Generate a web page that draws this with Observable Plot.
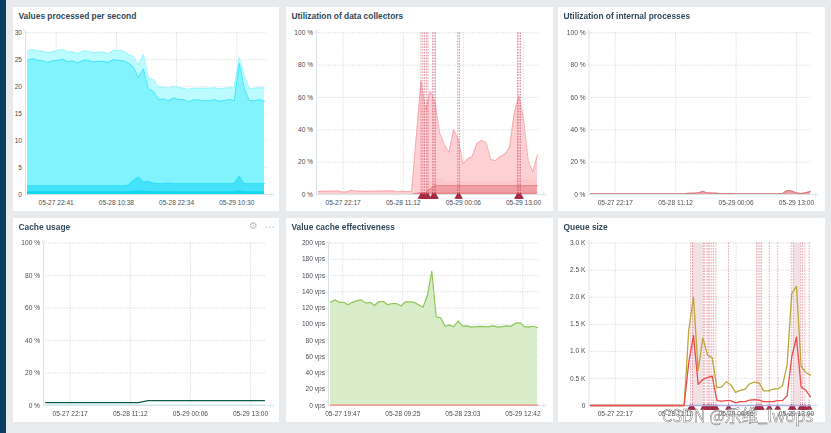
<!DOCTYPE html>
<html><head><meta charset="utf-8">
<script src="https://cdn.jsdelivr.net/npm/d3@7"></script>
<script src="https://cdn.jsdelivr.net/npm/@observablehq/plot@0.6"></script>
<style>
html,body{margin:0;padding:0;background:#e8ebee;overflow:hidden}
#page{position:relative;width:831px;height:433px;filter:blur(.42px);font-family:"Liberation Sans",Arial,sans-serif}
.stripe{position:absolute;left:0;top:0;width:6px;height:433px;background:#0b3f60}
.panel{position:absolute;background:#fff}
.panel svg{position:absolute;left:0;top:0;overflow:visible;background:none}
.title{position:absolute;left:5.5px;top:4px;font-weight:700;font-size:8.4px;line-height:11px;color:#32495a;white-space:nowrap}
.icon{position:absolute;color:#b4bfc7;line-height:10px;white-space:nowrap}
.mark{position:absolute;z-index:5;left:662px;top:406px;font-family:"Noto Sans CJK SC","Liberation Sans",sans-serif;font-size:16.6px;line-height:18px;color:rgba(255,255,255,.45);-webkit-text-stroke:.45px #6f6f6f;white-space:nowrap}
</style></head><body>
<div id="page"><div class="stripe"></div><div class="mark">CSDN @乐维_lwops</div></div>
<script>
// ---- Values processed per second
const vppTop = [26.6,26.9,26.6,26.6,26.3,26.5,26.7,26.9,26.4,26.5,26.1,26.6,26.6,26.3,26.4,26.4,26.1,26.7,26.7,26.6,26.0,25.6,24.0,26.0,21.6,21.3,19.9,19.9,19.7,20.1,19.8,19.7,19.5,19.7,19.7,19.7,19.7,19.8,19.6,19.7,19.8,19.8,25.4,22.0,19.6,19.7,19.8,19.7];
const vppMain = [24.9,25.2,24.9,24.8,24.5,24.8,24.9,25.1,24.6,24.8,24.4,24.9,24.9,24.6,24.7,24.7,24.5,25.0,24.9,24.8,24.4,23.7,21.6,23.3,19.5,19.1,17.6,17.7,17.4,17.9,17.6,17.6,17.2,17.6,17.5,17.4,17.4,17.6,17.3,17.4,17.6,17.4,24.3,19.7,17.4,17.4,17.6,17.3];
const vppMid = [1.6,1.6,1.6,1.6,1.6,1.6,1.6,1.6,1.6,1.6,1.6,1.6,1.6,1.6,1.6,1.6,1.6,1.6,1.6,1.6,1.7,2.6,3.2,2.3,2.4,2.1,2.0,2.0,2.1,2.0,2.0,2.0,2.0,2.0,2.0,2.0,2.0,2.0,2.0,2.0,2.0,2.0,3.4,2.0,2.0,2.0,2.0,2.0];
const vppLow = [0.5,0.5,0.5,0.5,0.5,0.5,0.5,0.5,0.5,0.5,0.5,0.5,0.5,0.5,0.5,0.5,0.5,0.5,0.5,0.5,0.5,0.55,0.7,0.6,0.55,0.5,0.5,0.5,0.5,0.5,0.5,0.5,0.5,0.5,0.5,0.5,0.5,0.5,0.5,0.5,0.5,0.5,0.7,0.5,0.5,0.5,0.5,0.5];
// ---- Utilization of data collectors
const collMain = [1.8,2.0,2.0,2.1,2.2,1.6,1.5,2.6,2.0,2.1,1.9,2.0,2.0,2.1,2.1,2.2,2.2,1.6,2.1,1.7,2.0,36,70,52,64,57,38,31,26,40,34,19,22,23.5,31.5,33.5,32,21.5,21,23.5,25,29,50,61,47,21,14,24.5];
const collLight = [0,0,0,0,0,0,0,0,0,0,0,0,0,0,0,0,0,0,0,0,0,1.2,2,6,8,9,10,9,8,8,8,7.5,8,8,8,8,8,8,8,8,8,8,8.5,9,9,9,9,9];
const collBand = [0,0,0,0,0,0,0,0,0,0,0,0,0,0,0,0,0,0,0,0,0,0.6,1,1.2,3.5,5.5,5.5,5.5,5.5,5.5,5.5,5.5,5.5,5.5,5.5,5.5,5.5,5.5,5.5,5.5,5.5,5.5,5.5,5.5,5.5,5.5,5.5,5.5];
const collLow = [0,0,0,0,0,0,0,0,0,0,0,0,0,0,0,0,0,0,0,0,0,0.6,1,1,1,1,1,1,1,1,1,1,1,1,1,1,1,1,1,1,1,1,1,1,1,1,1,1];
const collTriggers = [22.0,22.4,22.75,23.2,23.5,24.5,24.8,25.1,29.9,30.25,42.7,43.0,43.35];
// ---- Utilization of internal processes
const intMain = [0.4,0.4,0.4,0.4,0.4,0.4,0.4,0.4,0.4,0.4,0.4,0.4,0.4,0.4,0.4,0.4,0.4,0.4,0.4,0.4,0.4,0.8,0.8,1.0,1.9,1.0,0.9,0.8,0.5,0.4,0.6,0.4,0.4,0.4,0.4,0.4,0.4,0.4,0.4,0.4,0.4,0.6,2.4,2.2,1.0,0.6,1.1,1.9];
// ---- Cache usage
const cacheMain = [1.8,1.8,1.8,1.8,1.8,1.8,1.8,1.8,1.8,1.8,1.8,1.8,1.8,1.8,1.8,1.8,1.8,1.8,1.8,1.8,1.8,2.4,3,3,3,3,3,3,3,3,3,3,3,3,3,3,3,3,3,3,3,3,3,3,3,3,3,3];
const cacheFree = [0.3,0.3,0.3,0.3,0.3,0.3,0.3,0.3,0.3,0.3,0.3,0.3,0.3,0.3,0.3,0.3,0.3,0.3,0.3,0.3,0.3,0.3,0.3,0.3,0.3,0.3,0.3,0.3,0.3,0.3,0.3,0.3,0.3,0.3,0.3,0.3,0.3,0.3,0.3,0.3,0.3,0.3,0.3,0.3,0.3,0.3,0.3,0.3];
// ---- Value cache effectiveness
const vcHits = [127,130,127,127,124,127,129,130,126,127,123,128,128,124,125.5,125.5,122.5,127.5,127.5,127,124,121,135,165,109,108,97.5,99,97,104,97.5,98,96.5,97,97.5,97,97,98,96.5,97,98,97.5,101,102,97,96.5,97.5,96];
const vcMisses = [0.5,0.5,0.5,0.5,0.5,0.5,0.5,0.5,0.5,0.5,0.5,0.5,0.5,0.5,0.5,0.5,0.5,0.5,0.5,0.5,0.5,0.5,0.5,0.5,0.5,0.5,0.5,0.5,0.5,0.5,0.5,0.5,0.5,0.5,0.5,0.5,0.5,0.5,0.5,0.5,0.5,0.5,0.5,0.5,0.5,0.5,0.5,0.5];
// ---- Queue size
const qOlive = [0,0,0,0,0,0,0,0,0,0,0,0,0,0,0,0,0,0,0,0,0,1400,2000,650,1250,930,880,330,340,440,380,240,280,300,400,430,420,270,270,300,310,360,750,2070,2200,720,610,560];
const qRed = [0,0,0,0,0,0,0,0,0,0,0,0,0,0,0,0,0,0,0,0,0,800,1290,390,480,520,540,90,80,90,90,50,70,70,100,110,100,70,70,70,90,90,180,900,1260,340,280,160];
const qBase = [0,0,0,0,0,0,0,0,0,0,0,0,0,0,0,0,0,0,0,0,0,0,0,0,0,0,0,0,0,0,0,0,0,0,0,0,0,0,0,0,0,0,0,0,0,0,0,0];
const qTriggers = [21.4,21.8,24.15,24.4,24.9,25.2,25.5,25.9,26.3,26.8,29.5,35.5,35.8,36.2,36.5,38.2,40,42.9,43.3,44.9,45.3,45.8,46.7];
const qSpans = [[21.8,24.15],[43.4,44.9]];
// ---- Axis labels
const ticksA = ["05-27 22:41","05-28 10:38","05-28 22:34","05-29 10:30"];
const ticksB = ["05-27 22:17","05-28 11:12","05-29 00:06","05-29 13:00"];
const ticksC = ["05-27 19:47","05-28 09:25","05-28 23:03","05-29 12:42"];
const pctTicks = [0,20,40,60,80,100];
const vppTicks = [0,5,10,15,20,25,30];
const vpsTicks = [0,20,40,60,80,100,120,140,160,180,200];
const queueTicks = [0,500,1000,1500,2000,2500,3000];
const startTime = "05-27 17:00";

const parseT = s => d3.utcParse("%Y-%m-%d %H:%M")("2021-" + s);
const fmtT = d3.utcFormat("%m-%d %H:%M");
const t0 = parseT(startTime);
const atHour = h => new Date(+t0 + h * 3600e3);
const ser = arr => arr.map((v, i) => ({t: atHour(i), v}));
const area = (arr, fill, extra={}) => Plot.areaY(ser(arr), {x:"t", y1:0, y2:"v", fill, ...extra});
const line = (arr, stroke, strokeWidth=1, extra={}) => Plot.lineY(ser(arr), {x:"t", y:"v", stroke, strokeWidth, ...extra});
const triggerMarks = (hours, size, color="#d9485f", op=.62) => [
  Plot.ruleX(hours.map(atHour), {stroke:color, strokeOpacity:op, strokeWidth:.8, strokeDasharray:"1.6,1.2"}),
  Plot.dot(hours.map(atHour), {x:d=>d, y:0, symbol:"triangle", r:size, fill:"#a52a44", stroke:"none", dy:2.2})
];

function panel(o){
  const pxh = (o.x1 - o.x0) / 47;
  const domain = [atHour((o.ax - o.x0) / pxh), atHour((o.gridEnd - o.x0) / pxh)];
  const div = document.createElement("div");
  div.className = "panel";
  Object.assign(div.style, {left:o.left+"px", top:o.top+"px", width:o.width+"px", height:o.height+"px"});
  const tickDates = o.ticks.map(parseT);
  const grid = "#c6ced4";
  const fig = Plot.plot({
    width:o.width, height:o.height,
    marginLeft:o.ax-o.left, marginRight:o.left+o.width-o.gridEnd,
    marginTop:o.yTop-o.top, marginBottom:o.top+o.height-o.yBot,
    style:{background:"none", fontFamily:'"Liberation Sans",Arial,sans-serif', fontSize:"6.6px", color:"#4a4f54", overflow:"visible"},
    x:{type:"utc", domain},
    y:{domain:[0,o.yTicks[o.yTicks.length-1]]},
    marks:[
      Plot.ruleX(tickDates, {stroke:grid, strokeWidth:.8, strokeDasharray:"1,1.4"}),
      Plot.ruleY(o.yTicks, {stroke:grid, strokeWidth:.8, strokeDasharray:"1,1.4"}),
      ...o.under,
      Plot.ruleX([domain[0]], {stroke:"#dbe3e8", strokeWidth:1}),
      Plot.ruleY([0], {stroke:"#dbe3e8", strokeWidth:1, insetRight:-5}),
      Plot.dot([domain[0]], {x:d=>d, y:o.yTicks[o.yTicks.length-1], symbol:"triangle", r:1.3, fill:"#fff", stroke:"#cfd9df", strokeWidth:.5, dy:-1}),
      Plot.dot([domain[1]], {x:d=>d, y:0, symbol:"triangle", rotate:90, r:1.3, fill:"#fff", stroke:"#cfd9df", strokeWidth:.5, dx:5}),
      ...o.over,
      Plot.axisX({ticks:tickDates, tickFormat:fmtT, tickSize:0, tickPadding:6, label:null, anchor:"bottom"}),
      Plot.axisY({ticks:o.yTicks, tickFormat:o.yFmt, tickSize:0, tickPadding:3.5, label:null, anchor:"left"})
    ]
  });
  div.appendChild(fig);
  const t = document.createElement("div");
  t.className = "title"; t.textContent = o.title;
  div.appendChild(t);
  (o.icons||[]).forEach(ic=>{
    const e = document.createElement("div");
    e.className="icon"; e.textContent=ic.text;
    Object.assign(e.style,{left:ic.l+"px",top:ic.t+"px",fontSize:ic.s+"px",fontFamily:ic.f,letterSpacing:ic.ls||"0"});
    div.appendChild(e);
  });
  document.getElementById("page").appendChild(div);
}
const pct = d => d + " %";
const rowA = {top:7, height:204, yTop:32.3, yBot:194};
const rowB = {top:218, height:204, yTop:242.5, yBot:405};

panel({...rowA, title:"Values processed per second", left:13, width:266, ax:25, x0:27, x1:264, gridEnd:267,
  ticks:ticksA, yTicks:vppTicks, yFmt:d=>d,
  under:[area(vppTop,"#bcfbff"),line(vppTop,"#8ff6ff",.9),area(vppMain,"#80f3ff"),line(vppMain,"#3fe4fa",.9),
         area(vppMid,"#45e3fb"),line(vppMid,"#2adcf5",.9),area(vppLow,"#0fd7ee")],
  over:[]});

panel({...rowA, title:"Utilization of data collectors", left:286, width:267, ax:316, x0:318, x1:537, gridEnd:539,
  ticks:ticksB, yTicks:pctTicks, yFmt:pct,
  under:[area(collMain,"#fdd0d3"),line(collMain,"#f6a3a8",.9),area(collLight,"#fcc8cc"),
         area(collBand,"#f09ea3"),line(collBand,"#e0838a",.8),area(collLow,"#e6858c")],
  over:triggerMarks(collTriggers,2.6,"#c23a55",.7)});

panel({...rowA, title:"Utilization of internal processes", left:558, width:267, ax:588.5, x0:590, x1:810, gridEnd:811,
  ticks:ticksB, yTicks:pctTicks, yFmt:pct,
  under:[area(intMain,"#eda0a3"),line(intMain,"#d4787c",1)],
  over:[]});

panel({...rowB, title:"Cache usage", left:13, width:266, ax:43, x0:45, x1:264, gridEnd:266,
  ticks:ticksB, yTicks:pctTicks, yFmt:pct,
  under:[line(cacheFree,"#a7f0ec",1.2),line(cacheMain,"#0f5c4e",1.2)],
  over:[],
  icons:[{text:"⚙",l:236,t:3,s:10,f:"DejaVu Sans"},{text:"•••",l:252,t:3.5,s:5,f:"DejaVu Sans",ls:".3px"}]});

panel({...rowB, title:"Value cache effectiveness", left:286, width:267, ax:328, x0:330, x1:537, gridEnd:539,
  ticks:ticksC, yTicks:vpsTicks, yFmt:d=>d+" vps",
  under:[area(vcHits,"#d9ecc9"),line(vcHits,"#8fc75a",1.2)],
  over:[line(vcMisses,"#ef9f9c",1.8)]});

panel({...rowB, title:"Queue size", left:558, width:267, ax:588.5, x0:590, x1:810, gridEnd:811,
  ticks:ticksB, yTicks:queueTicks, yFmt:d=>d===0?"0":(d/1000).toFixed(1)+" K",
  under:[Plot.rectX(qSpans,{x1:d=>atHour(d[0]),x2:d=>atHour(d[1]),y1:0,y2:3000,fill:"#f2e1e4"})],
  over:[...triggerMarks(qTriggers,2.6),line(qBase,"#aaaade",1.6),line(qOlive,"#b8a938",1.3),line(qRed,"#f04a4a",1.3)]});
</script>
</body></html>
